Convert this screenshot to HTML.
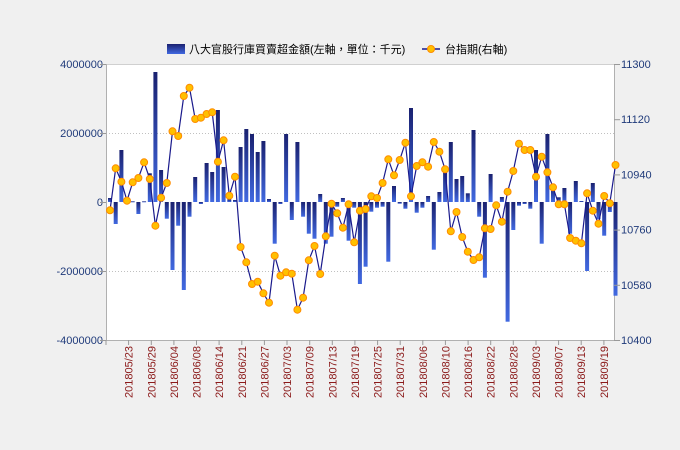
<!DOCTYPE html>
<html><head><meta charset="utf-8"><style>
html,body{margin:0;padding:0;background:#f0f0f0;}
svg{display:block;font-family:"Liberation Sans","Noto Sans CJK TC",sans-serif;}
</style></head><body>
<svg id="s" width="680" height="450" xmlns="http://www.w3.org/2000/svg">
<defs>
<linearGradient id="g" x1="0" y1="0" x2="0" y2="1"><stop offset="0" stop-color="#1a2170"/><stop offset="1" stop-color="#4169e1"/></linearGradient>
<linearGradient id="gl" x1="0" y1="0" x2="0" y2="1"><stop offset="0" stop-color="#1a2170"/><stop offset="1" stop-color="#4169e1"/></linearGradient>
</defs>
<rect x="0" y="0" width="680" height="450" fill="#f0f0f0"/>
<rect x="106" y="64" width="508" height="276" fill="#fff"/>
<line x1="106" y1="64.5" x2="614" y2="64.5" stroke="#d0d0d0"/>
<line x1="106" y1="133.5" x2="614" y2="133.5" stroke="#c0c0c0" stroke-dasharray="1,2"/>
<line x1="106" y1="271.5" x2="614" y2="271.5" stroke="#c0c0c0" stroke-dasharray="1,2"/>
<line x1="106" y1="340.5" x2="614" y2="340.5" stroke="#b0b0b0"/>
<line x1="106.5" y1="64" x2="106.5" y2="340" stroke="#b0b0b0"/>
<line x1="614.5" y1="64" x2="614.5" y2="340" stroke="#b0b0b0"/>
<g id="bars"></g><g id="line"></g><g id="ax" font-size="11"></g>
<g font-size="11" fill="#000">
<rect x="167" y="44" width="18" height="10" fill="url(#gl)"/>
<text x="189" y="53">八大官股行庫買賣超金額(左軸，單位：千元)</text>
<line x1="422" y1="49" x2="440" y2="49" stroke="#1a1a8c" stroke-width="1.5"/>
<circle cx="431" cy="49" r="3.5" fill="#ffc000" stroke="#ff8c00"/>
<text x="445" y="53">台指期(右軸)</text>
</g>
</svg>
<script>
var bars=[414,492,270,424,424,462,424,340,36,330,476,630,497,690,470,351,432,309,336,150,321,418,420,261,207,222,276,243,417,551,432,222,480,246,470,521,536,402,551,530,440,414,542,443,672,620,455,443,440,605,378,431,446,144,458,443,408,569,396,330,246,357,348,400,210,470,653,342,445,411,785,510,437,432,446,270,551,222,380,412,384,521,363,423,633,369,478,527,456,707];
var ln=[451,325,365,422,367,354,307,357,497,413,369,214,228,108,83,177,173,162,157,305,241,407,350,561,607,672,665,700,728,587,647,637,641,749,713,601,558,642,529,431,460,503,433,547,452,447,409,414,369,298,346,300,248,409,318,307,320,246,275,328,514,456,531,575,600,592,505,507,436,485,395,333,251,270,270,350,290,337,382,433,433,534,542,550,400,452,491,408,430,315];
var NS="http://www.w3.org/2000/svg";
function el(t,a,p){var e=document.createElementNS(NS,t);for(var k in a)e.setAttribute(k,a[k]);p.appendChild(e);return e;}
var B=document.getElementById('bars'),L=document.getElementById('line'),A=document.getElementById('ax');
var z=202,pts=[];
for(var i=0;i<90;i++){var x=110+5.68*i;var y=60+bars[i]/3;var t=Math.min(y,z),b=Math.max(y,z);if(b-t<1)b=t+1;
el('rect',{x:(x-2).toFixed(1),y:t.toFixed(1),width:4,height:(b-t).toFixed(1),fill:'url(#g)'},B);
pts.push(x.toFixed(1)+','+(60+ln[i]/3).toFixed(1));}
el('polyline',{points:pts.join(' '),fill:'none',stroke:'#1a1a8c','stroke-width':1.2},L);
for(var i=0;i<90;i++){var p=pts[i].split(',');el('circle',{cx:p[0],cy:p[1],r:3.5,fill:'#ffc000',stroke:'#ff8c00','stroke-width':1},L);}
var lv=['4000000','2000000','0','-2000000','-4000000'];
for(var i=0;i<5;i++){var y=64+69*i;var t=el('text',{x:103,y:y+4,'text-anchor':'end',fill:'#1f3a7a'},A);t.textContent=lv[i];el('line',{x1:100,y1:y+.5,x2:106,y2:y+.5,stroke:'#999'},A);}
var rv=['11300','11120','10940','10760','10580','10400'];
for(var i=0;i<6;i++){var y=64+55.2*i;var t=el('text',{x:621,y:y+4,fill:'#1f3a7a'},A);t.textContent=rv[i];el('line',{x1:614,y1:y+.5,x2:620,y2:y+.5,stroke:'#999'},A);}
var xl=['05/23','05/29','06/04','06/08','06/14','06/21','06/27','07/03','07/09','07/13','07/19','07/25','07/31','08/06','08/10','08/16','08/22','08/28','09/03','09/07','09/13','09/19'];
for(var k=0;k<=22;k++){var x=106+22.63*k;el('line',{x1:x.toFixed(1),y1:340,x2:x.toFixed(1),y2:345,stroke:'#999'},A);
if(k>=1){var t=el('text',{x:0,y:0,'text-anchor':'end',fill:'#8b1a1a',transform:'translate('+(x+4).toFixed(1)+',346) rotate(-90)'},A);t.textContent='2018'+xl[k-1];}}
</script>
</body></html>
